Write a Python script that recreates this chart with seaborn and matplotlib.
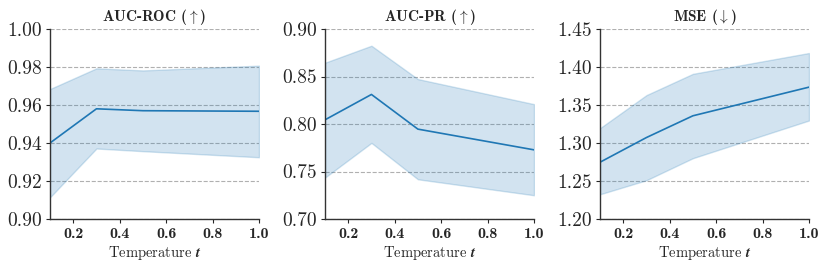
import numpy as np
import pandas as pd
import seaborn as sns
import matplotlib.pyplot as plt

temps = [0.1, 0.3, 0.5, 1.0]

roc_mean = [0.940, 0.958, 0.957, 0.9567]
roc_upper = [0.9684, 0.9793, 0.9782, 0.9807]
roc_lower = [0.9114, 0.9371, 0.9357, 0.9325]

pr_mean = [0.8044, 0.8311, 0.7946, 0.7728]
pr_upper = [0.8645, 0.8824, 0.8473, 0.8209]
pr_lower = [0.7436, 0.7801, 0.7418, 0.7250]

mse_mean = [1.2747, 1.3072, 1.3358, 1.3735]
mse_upper = [1.3195, 1.3630, 1.3910, 1.4184]
mse_lower = [1.2325, 1.2510, 1.2800, 1.3296]

titles = [r'AUC-ROC ($\uparrow$)', r'AUC-PR ($\uparrow$)', r'MSE ($\downarrow$)']
ylims = [(0.90, 1.00), (0.70, 0.90), (1.20, 1.45)]
yticks = [[0.90, 0.92, 0.94, 0.96, 0.98, 1.00],
          [0.70, 0.75, 0.80, 0.85, 0.90],
          [1.20, 1.25, 1.30, 1.35, 1.40, 1.45]]
xticks = [0.2, 0.4, 0.6, 0.8, 1.0]

sns.set_style('ticks')
plt.rcParams['font.family'] = 'serif'
plt.rcParams['font.serif'] = ['cmr10']
plt.rcParams['mathtext.fontset'] = 'cm'
plt.rcParams['axes.formatter.use_mathtext'] = True

fig = plt.figure(figsize=(8.3, 2.71), dpi=100)
lefts = [50 / 830, 325 / 830, 600 / 830]
series = [(roc_mean, roc_upper, roc_lower),
          (pr_mean, pr_upper, pr_lower),
          (mse_mean, mse_upper, mse_lower)]

for i, (mean, up, lo) in enumerate(series):
    ax = fig.add_axes([lefts[i], 52 / 271, 209 / 830, 190 / 271])
    df = pd.DataFrame({'t': temps, 'mean': mean, 'up': up, 'lo': lo})
    ax.fill_between(df['t'], df['lo'], df['up'], color='#1f77b4', alpha=0.2, lw=1)
    sns.lineplot(data=df, x='t', y='mean', ax=ax, color='#1f77b4', lw=1.2)
    ax.set_xlim(0.1, 1.0)
    ax.set_ylim(*ylims[i])
    ax.set_yticks(yticks[i])
    ax.set_yticklabels(['%.2f' % v for v in yticks[i]], fontsize=14)
    ax.set_xticks(xticks)
    ax.set_xticklabels(['%.1f' % v for v in xticks], family='cmb10', fontsize=11.5)
    ax.yaxis.grid(True, ls='--', color='#b0b0b0', lw=0.8)
    ax.set_title(titles[i], family='cmb10', fontsize=11, pad=6)
    ax.set_xlabel(r'Temperature $\boldsymbol{t}$', fontsize=10.5, labelpad=2)
    ax.set_ylabel('')
    ax.tick_params(length=3, width=0.8, pad=3)
    for s in ['left', 'bottom']:
        ax.spines[s].set_color('#333333')
        ax.spines[s].set_linewidth(1.0)
    sns.despine(ax=ax)

fig.savefig('out.png', dpi=100)
